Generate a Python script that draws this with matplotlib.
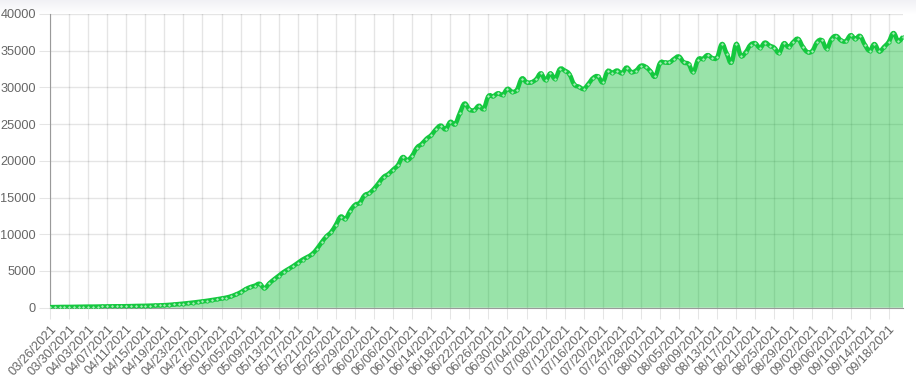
import numpy as np
import pandas as pd
import matplotlib
matplotlib.use("Agg")
from matplotlib import pyplot as plt
from matplotlib.path import Path
from matplotlib.patches import PathPatch

# daily values, 03/26/2021 .. 09/21/2021
values = [
    80, 90, 100, 110, 110, 120, 130, 140, 150, 150,
    160, 170, 180, 190, 200, 200, 210, 220, 240, 250,
    260, 280, 300, 320, 350, 390, 440, 500, 560, 630,
    700, 780, 860, 950, 1050, 1150, 1260, 1380, 1550, 1800,
    2100, 2500, 2800, 3000, 3250, 2650, 3300, 3850, 4350, 4850,
    5250, 5650, 6100, 6550, 6900, 7300, 8000, 8900, 9700, 10300,
    11300, 12400, 12100, 13200, 14000, 14300, 15300, 15600, 16200, 17000,
    17800, 18200, 18800, 19400, 20500, 20100, 20700, 21800, 22300, 23000,
    23500, 24300, 24800, 24300, 25300, 25000, 26500, 27800, 27000, 26900,
    27500, 27100, 28800, 28800, 29200, 29000, 29800, 29400, 29700, 31200,
    30700, 30700, 31100, 31900, 31000, 31900, 31200, 32500, 32300, 31800,
    30400, 30100, 29800, 30500, 31300, 31500, 30700, 32200, 32000, 32300,
    31950, 32700, 32100, 32300, 32950, 32800, 32200, 31500, 33300, 33400,
    33400, 33900, 34200, 33400, 33200, 32100, 33800, 33900, 34400, 34000,
    34100, 35900, 34600, 33400, 35900, 34300, 34800, 35800, 36000, 35400,
    36100, 35700, 35400, 34700, 36000, 35500, 36200, 36600, 35500, 34800,
    35000, 36200, 36400, 35300, 36600, 37000, 36400, 36300, 37100, 36600,
    37000, 35800, 35000, 35900, 34900, 35500, 36200, 37400, 36300, 36900,
]
dates = pd.date_range("2021-03-26", periods=len(values), freq="D")
labels = [d.strftime("%m/%d/%Y") for d in dates]

plt.rcParams["font.family"] = ["Liberation Sans", "DejaVu Sans"]


def smooth_path(xs, ys, t=0.4, close_to=None):
    # bezier curve through the points, like a line with tension
    verts = [(xs[0], ys[0])]
    codes = [Path.MOVETO]
    n = len(xs)
    for i in range(n - 1):
        x0, y0 = xs[max(i - 1, 0)], ys[max(i - 1, 0)]
        x1, y1 = xs[i], ys[i]
        x2, y2 = xs[i + 1], ys[i + 1]
        x3, y3 = xs[min(i + 2, n - 1)], ys[min(i + 2, n - 1)]
        c1 = (x1 + (x2 - x0) * t / 2, y1 + (y2 - y0) * t / 2)
        c2 = (x2 - (x3 - x1) * t / 2, y2 - (y3 - y1) * t / 2)
        verts += [c1, c2, (x2, y2)]
        codes += [Path.CURVE4] * 3
    if close_to is not None:
        verts += [(xs[-1], close_to), (xs[0], close_to), (xs[0], ys[0])]
        codes += [Path.LINETO, Path.LINETO, Path.CLOSEPOLY]
    return Path(verts, codes)


fig = plt.figure(figsize=(9.16, 3.8), dpi=100)

# light grey band at the very top
band = fig.add_axes([0, 366 / 380, 1, 14 / 380])
g = np.linspace(0.945, 1.0, 40)
band.imshow(np.dstack([g, g, g + (1 - g) * 0.3]).reshape(-1, 1, 3), aspect="auto",
            extent=[0, 1, 0, 1])
band.axis("off")

ax = fig.add_axes([50 / 916, (380 - 307.7) / 380, 853 / 916, 293.7 / 380])
x = np.arange(len(values))

ax.add_patch(PathPatch(smooth_path(x, values, close_to=0), fc=(0.0, 0.73, 0.16),
                       alpha=0.4, lw=0, zorder=2))
ax.add_patch(PathPatch(smooth_path(x, values), fc="none", ec="#14c83f", lw=3.2,
                       zorder=3))
ax.plot(x, values, "o", ms=2.4, mfc="#a6ecb6", mec="#14c83f", mew=0.6, zorder=4)

ax.set_xlim(0, len(values) - 1)
ax.set_ylim(0, 40000)
ax.set_yticks(range(0, 40001, 5000))
ax.set_xticks(x[::4])
ax.set_xticklabels(labels[::4], rotation=47, ha="right", rotation_mode="anchor")

ax.grid(True, color="#000000", alpha=0.1, lw=1, zorder=1)
ax.tick_params(axis="both", length=8, color=(0, 0, 0, 0.1), labelcolor="#666666",
               labelsize=9.2, pad=2)
ax.tick_params(axis="x", pad=3)

for s in ["top", "right"]:
    ax.spines[s].set_visible(False)
ax.spines["left"].set_color("#9a9a9a")
ax.spines["bottom"].set_color("#9a9a9a")
ax.set_axisbelow(True)

fig.savefig("out.png", dpi=100)
